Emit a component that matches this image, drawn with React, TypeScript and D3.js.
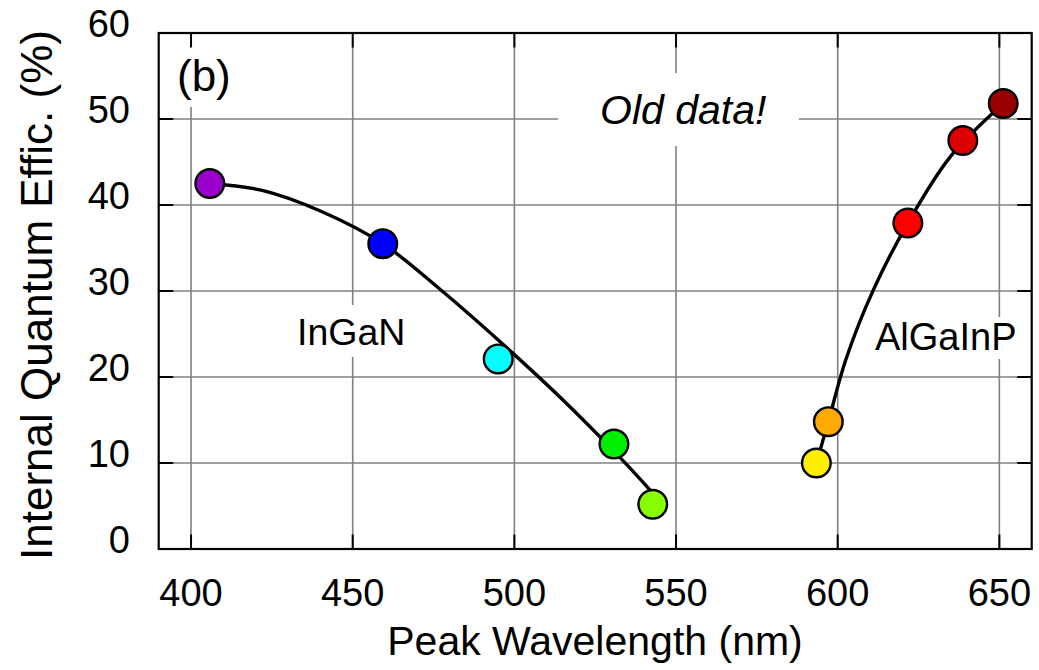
import React from "react";
import * as d3 from "d3";

// ---- data ----
const xTicks = [400, 450, 500, 550, 600, 650];
const yTicks = [0, 10, 20, 30, 40, 50, 60];

const inganWl = [405.8, 459.3, 495.0, 530.8, 542.8];
const inganIqe = [42.5, 35.5, 22.1, 12.2, 5.2];
const inganColors = ["#9900cc", "#0000ff", "#00ffff", "#00ee00", "#88ff00"];

const algainpWl = [593.4, 597.1, 621.7, 638.7, 651.2];
const algainpIqe = [10.0, 14.8, 37.9, 47.5, 51.8];
const algainpColors = ["#ffee00", "#ffaa00", "#ff0000", "#dd0000", "#990000"];

// fitted guide curves
const inganFitWl = [405.8, 422, 440, 459.3, 477, 495, 514, 533, 542.8];
const inganFitIqe = [42.5, 41.7, 39.3, 35.5, 30.2, 24.3, 17.7, 10.5, 6.5];
const algainpFitWl = [593.4, 597.1, 602.5, 611.0, 621.7, 634.8, 651.2];
const algainpFitIqe = [10.0, 14.8, 22.0, 30.1, 37.9, 45.6, 51.8];

const W = 1039, H = 670;
const M = { left: 158.7, right: 1031.7, top: 33, bottom: 549 };

export default function App() {
  const x = d3.scaleLinear().domain([390, 660]).range([M.left, M.right]);
  const y = d3.scaleLinear().domain([0, 60]).range([M.bottom, M.top]);
  const line = d3
    .line<[number, number]>()
    .x((d) => x(d[0]))
    .y((d) => y(d[1]))
    .curve(d3.curveCatmullRom.alpha(0.5));
  const fit1 = line(inganFitWl.map((w, i) => [w, inganFitIqe[i]] as [number, number])) || "";
  const fit2 = line(algainpFitWl.map((w, i) => [w, algainpFitIqe[i]] as [number, number])) || "";
  const font = "'Liberation Sans', Arial, Helvetica, sans-serif";
  const tick = 14.5;
  const pts = [
    ...inganWl.map((w, i) => ({ w, v: inganIqe[i], c: inganColors[i] })),
    ...algainpWl.map((w, i) => ({ w, v: algainpIqe[i], c: algainpColors[i] })),
  ];
  return (
    <svg
      width={W}
      height={H}
      style={{ position: "absolute", left: 0, top: 0, background: "#fff" }}
      fontFamily={font}
    >
      <rect x={0} y={0} width={W} height={H} fill="#fff" />
      {/* grid */}
      {xTicks.map((t) => (
        <line key={"gx" + t} x1={x(t)} x2={x(t)} y1={M.top} y2={M.bottom} stroke="#808080" strokeWidth={1.6} />
      ))}
      {yTicks.filter((t) => t > 0 && t < 60).map((t) => (
        <line key={"gy" + t} x1={M.left} x2={M.right} y1={y(t)} y2={y(t)} stroke="#808080" strokeWidth={1.6} />
      ))}
      {/* label boxes */}
      <rect x={170} y={46} width={75} height={61} fill="#fff" />
      <rect x={558} y={73} width={241} height={73} fill="#fff" />
      <rect x={290} y={305} width={122} height={52} fill="#fff" />
      <rect x={868} y={317} width={158} height={42} fill="#fff" />
      {/* ticks */}
      {xTicks.map((t) => (
        <g key={"tx" + t}>
          <line x1={x(t)} x2={x(t)} y1={M.bottom} y2={M.bottom - tick} stroke="#000" strokeWidth={2} />
          <line x1={x(t)} x2={x(t)} y1={M.top} y2={M.top + tick} stroke="#000" strokeWidth={2} />
          <text x={x(t)} y={606} textAnchor="middle" fontSize={38} fill="#000">
            {t}
          </text>
        </g>
      ))}
      {yTicks.map((t) => (
        <g key={"ty" + t}>
          <line x1={M.left} x2={M.left + tick} y1={y(t)} y2={y(t)} stroke="#000" strokeWidth={2} />
          <line x1={M.right} x2={M.right - tick} y1={y(t)} y2={y(t)} stroke="#000" strokeWidth={2} />
          <text x={130} y={y(t) + 3.7} textAnchor="end" fontSize={38} fill="#000">
            {t}
          </text>
        </g>
      ))}
      {/* frame */}
      <rect x={M.left} y={M.top} width={M.right - M.left} height={M.bottom - M.top} fill="none" stroke="#000" strokeWidth={2.2} />
      {/* annotations */}
      <text x={177} y={91} fontSize={44} fill="#000">(b)</text>
      <text x={600} y={123.5} fontSize={41} fontStyle="italic" fill="#000">Old data!</text>
      <text x={297} y={345} fontSize={37.5} fill="#000">InGaN</text>
      <text x={875} y={350} fontSize={38} fill="#000">AlGaInP</text>
      {/* curves */}
      <path d={fit1} fill="none" stroke="#000" strokeWidth={3.4} />
      <path d={fit2} fill="none" stroke="#000" strokeWidth={3.4} />
      {/* points */}
      {pts.map((p, i) => (
        <circle key={i} cx={x(p.w)} cy={y(p.v)} r={14.3} fill={p.c} stroke="#000" strokeWidth={2.4} />
      ))}
      {/* axis titles */}
      <text x={595} y={655} textAnchor="middle" fontSize={41} fill="#000">
        Peak Wavelength (nm)
      </text>
      <text
        transform={`translate(51.7, 295) rotate(-90)`}
        textAnchor="middle"
        fontSize={44}
        fill="#000"
      >
        Internal Quantum Effic. (%)
      </text>
    </svg>
  );
}
